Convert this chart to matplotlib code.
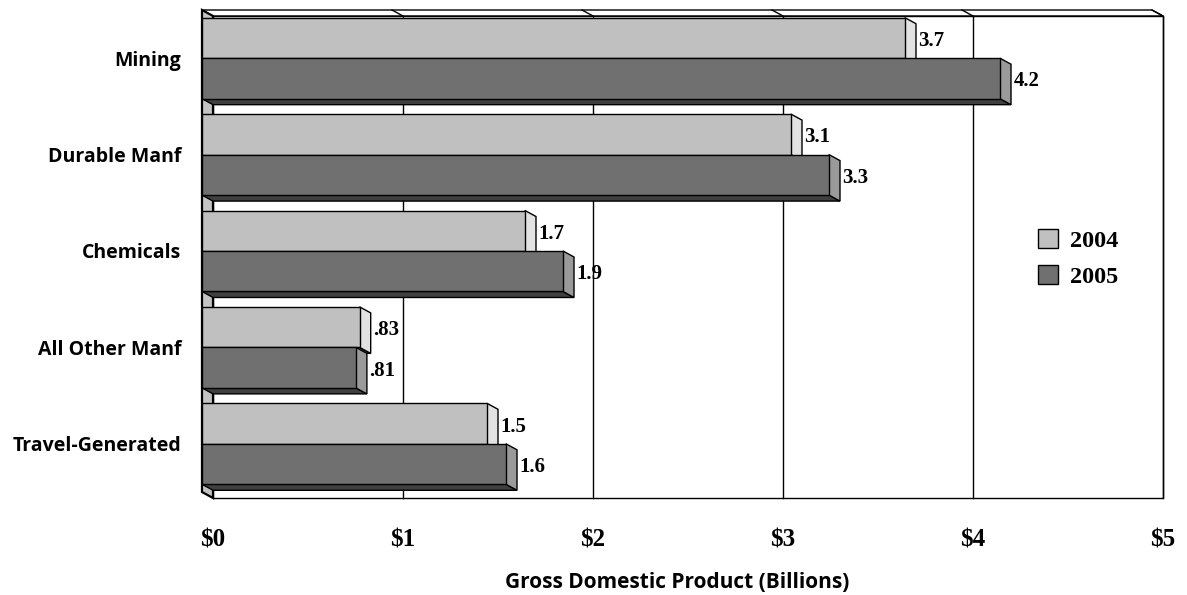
import matplotlib
matplotlib.use("Agg")
import matplotlib.pyplot as plt
from matplotlib.patches import Polygon, Rectangle, Patch

# --- data -------------------------------------------------------------
categories = ["Mining", "Durable Manf", "Chemicals", "All Other Manf", "Travel-Generated"]
gdp_2004 = [3.7, 3.1, 1.7, 0.83, 1.5]
gdp_2005 = [4.2, 3.3, 1.9, 0.81, 1.6]
labels_2004 = ["3.7", "3.1", "1.7", ".83", "1.5"]
labels_2005 = ["4.2", "3.3", "1.9", ".81", "1.6"]
series_names = ["2004", "2005"]
x_ticks = [0, 1, 2, 3, 4, 5]
x_tick_labels = ["$0", "$1", "$2", "$3", "$4", "$5"]

# --- style --------------------------------------------------------------
W, H, DPI = 1187, 595, 100
DEPTH_PX = (11, 6)            # 3-D depth offset (right, down) in pixels
BAR_H = 0.42                  # height of one bar in category units
face_cols = {"2004": ("#c0c0c0", "#e2e2e2", "#606060"),
             "2005": ("#707070", "#9a9a9a", "#404040")}
WALL = "#c4c4c4"
SANS = "Open Sans"
SERIF = "Liberation Serif"

fig = plt.figure(figsize=(W / DPI, H / DPI), dpi=DPI)
left, right, top, bottom = 202, 1152, 10, 492
ax = fig.add_axes([left / W, 1 - bottom / H, (right - left) / W, (bottom - top) / H])
XLIM = (0, 5)
YLIM = (len(categories) - 0.5, -0.5)
ax.set_xlim(*XLIM)
ax.set_ylim(*YLIM)
for s in ax.spines.values():
    s.set_visible(False)

# depth offset in data units
x0, x1 = XLIM
y0, y1 = YLIM
ddx = DEPTH_PX[0] * (x1 - x0) / (right - left)
ddy = DEPTH_PX[1] * (y0 - y1) / (bottom - top)

ylo, yhi = y1, y0  # -0.5 (top), 4.5 (bottom)
LW = 1.0

def poly(pts, fc, lw=LW, z=1):
    ax.add_patch(Polygon(pts, closed=True, facecolor=fc, edgecolor="black",
                         linewidth=lw, clip_on=False, zorder=z, joinstyle="miter"))

# ceiling strip and back wall
poly([(0, ylo), (x1, ylo), (x1 + ddx, ylo + ddy), (ddx, ylo + ddy)], "white", z=1)
poly([(ddx, ylo + ddy), (x1 + ddx, ylo + ddy), (x1 + ddx, yhi + ddy), (ddx, yhi + ddy)],
     "white", z=1)
for t in x_ticks[1:]:
    ax.plot([t, t + ddx], [ylo, ylo + ddy], color="black", lw=LW, clip_on=False, zorder=2)
    ax.plot([t + ddx, t + ddx], [ylo + ddy, yhi + ddy], color="black", lw=LW,
            clip_on=False, zorder=2)

# left wall
poly([(0, ylo), (ddx, ylo + ddy), (ddx, yhi + ddy), (0, yhi)], WALL, lw=1.6, z=3)

# bars, drawn from top to bottom so nearer faces overlap farther ones
z = 4
for i, cat in enumerate(categories):
    for name, vals, labs, off in (("2004", gdp_2004, labels_2004, -BAR_H),
                                  ("2005", gdp_2005, labels_2005, 0.0)):
        v = vals[i]
        ya, yb = i + off, i + off + BAR_H
        front, side, under = face_cols[name]
        poly([(0, yb), (v, yb), (v + ddx, yb + ddy), (ddx, yb + ddy)], under, z=z)
        poly([(v, ya), (v + ddx, ya + ddy), (v + ddx, yb + ddy), (v, yb)], side, z=z)
        ax.add_patch(Rectangle((0, ya), v, BAR_H, facecolor=front, edgecolor="black",
                               linewidth=LW, clip_on=False, zorder=z))
        ax.text(v + ddx + 0.012, (ya + yb) / 2 + ddy / 2, labs[i], ha="left", va="center",
                fontsize=15, fontweight="bold", family=SERIF, zorder=z + 1)
        z += 1

# category labels
ax.set_yticks(range(len(categories)))
ax.set_yticklabels(categories, fontsize=14, fontweight="bold", family=SANS)
ax.tick_params(axis="y", length=0, pad=15)

# value-axis labels sit under the back-wall gridlines
ax.set_xticks([])
for t, lab in zip(x_ticks, x_tick_labels):
    ax.annotate(lab, xy=(t + ddx, 0), xycoords=ax.get_xaxis_transform(),
                xytext=(0, -26.5), textcoords="offset points", ha="center", va="top",
                fontsize=18, fontweight="bold", family=SERIF, annotation_clip=False)
ax.set_xlabel("Gross Domestic Product (Billions)", fontsize=15, fontweight="bold",
              family=SANS)
ax.xaxis.set_label_coords(0.5, -0.166)
ax.xaxis.label.set_verticalalignment("top")

handles = [Patch(facecolor=face_cols[n][0], edgecolor="black", linewidth=1.0)
           for n in series_names]
ax.legend(handles, series_names, loc="center left", bbox_to_anchor=(0.8674, 0.485),
          frameon=False, prop={"family": SERIF, "weight": "bold", "size": 17.5},
          handlelength=0.82, handleheight=0.82, handletextpad=0.5, borderpad=0,
          labelspacing=0.55)

fig.savefig("out.png", dpi=DPI)
